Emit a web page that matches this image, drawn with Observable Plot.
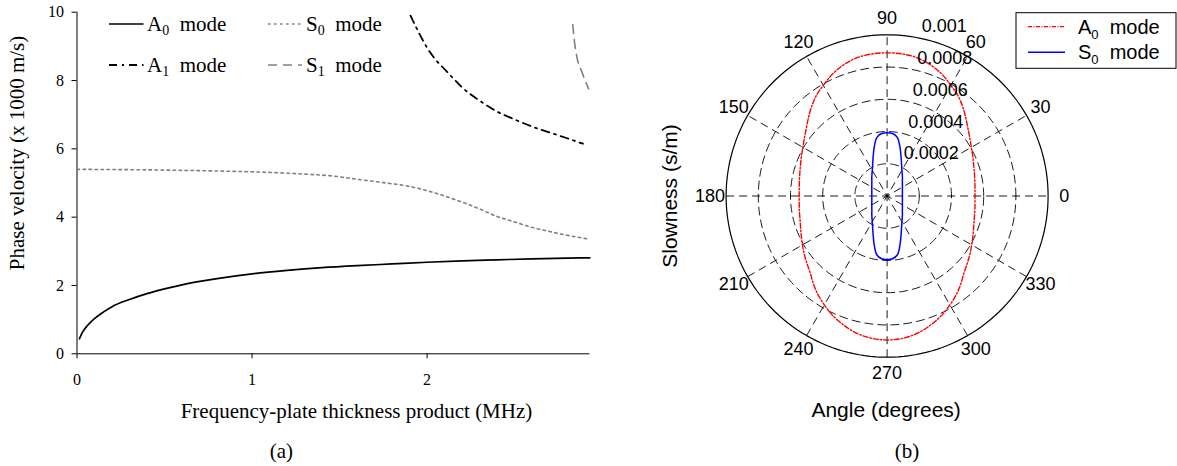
<!DOCTYPE html>
<html><head><meta charset="utf-8">
<script src="https://cdn.jsdelivr.net/npm/d3@7"></script>
<script src="https://cdn.jsdelivr.net/npm/@observablehq/plot@0.6"></script>
<style>
body{margin:0;background:#fff;}
#wrap{position:relative;width:1177px;height:466px;overflow:hidden;background:#fff;}
#left{position:absolute;left:0;top:0;}
#right{position:absolute;left:630px;top:0;}
svg{overflow:visible;}
</style></head><body>
<div id="wrap"><div id="left"></div><div id="right"></div></div>
<script>
// ---------- (a) dispersion curves ----------
const xTicks = [0, 1, 2];
const yTicks = [0, 2, 4, 6, 8, 10];
const a0F = [0.014,0.03,0.06,0.10,0.15,0.20,0.30,0.40,0.50,0.60,0.80,1.00,1.20,1.40,1.60,1.80,2.00,2.20,2.40,2.60,2.80,2.93];
const a0V = [0.44,0.62,0.83,1.03,1.22,1.38,1.59,1.76,1.90,2.02,2.20,2.34,2.44,2.52,2.58,2.63,2.68,2.72,2.75,2.78,2.80,2.81];
const s0F = [0.0,0.3,0.6,0.9,1.1,1.3,1.45,1.6,1.75,1.9,2.05,2.2,2.3,2.4,2.5,2.6,2.7,2.8,2.92];
const s0V = [5.40,5.39,5.37,5.34,5.31,5.26,5.21,5.11,5.01,4.90,4.70,4.44,4.24,4.02,3.86,3.70,3.58,3.47,3.36];
const a1F = [1.905,1.95,2.0,2.05,2.1,2.15,2.2,2.3,2.4,2.5,2.6,2.7,2.8,2.89];
const a1V = [9.90,9.43,8.96,8.60,8.33,8.06,7.80,7.41,7.09,6.86,6.65,6.48,6.31,6.15];
const s1F = [2.832,2.841,2.856,2.885,2.922];
const s1V = [9.64,9.17,8.68,8.24,7.76];

// ---------- (b) slowness curves (values in 1e-3 s/m) ----------
const angleDeg = [0,5,10,15,20,25,30,35,40,45,50,55,60,65,70,75,80,85,90,95,100,105,110,115,120,125,130,135,140,145,150,155,160,165,170,175,180,185,190,195,200,205,210,215,220,225,230,235,240,245,250,255,260,265,270,275,280,285,290,295,300,305,310,315,320,325,330,335,340,345,350,355];
const a0Slow = [.546,.548,.553,.561,.572,.587,.604,.627,.655,.690,.728,.764,.792,.824,.850,.870,.882,.887,.888,
  .887,.882,.870,.850,.824,.792,.764,.728,.690,.655,.627,.604,.587,.572,.561,.553,.548,
  .546,
  .548,.553,.560,.572,.588,.607,.628,.650,.675,.712,.748,.780,.812,.838,.862,.880,.890,
  .893,
  .890,.880,.862,.838,.812,.780,.748,.712,.675,.650,.628,.607,.588,.572,.560,.553,.548];
const s0Slow = [.095,.0954,.0965,.0985,.101,.105,.110,.116,.124,.134,.148,.164,.184,.213,.254,.311,.368,.389,.393,
  .389,.368,.311,.254,.213,.184,.164,.148,.134,.124,.116,.110,.105,.101,.0985,.0965,.0954,
  .095,
  .0954,.0965,.0985,.101,.105,.110,.116,.124,.134,.148,.164,.184,.213,.254,.311,.370,.391,
  .395,
  .391,.370,.311,.254,.213,.184,.164,.148,.134,.124,.116,.110,.105,.101,.0985,.0965,.0954];
const radialTicks = [0.0002, 0.0004, 0.0006, 0.0008];
const rMax = 0.001;
const spokeAngles = [0, 30, 60, 90, 120, 150];
const angleLabels = [0,30,60,90,120,150,180,210,240,270,300,330];

const serif = "'Liberation Serif','Times New Roman',serif";
const sans = "'Liberation Sans',Arial,Helvetica,sans-serif";
const zip = (F, V) => F.map((f, i) => ({f, v: V[i]}));

const left = Plot.plot({
  width: 630, height: 466,
  marginLeft: 76.5, marginRight: 40.6, marginTop: 11.7, marginBottom: 112.7,
  style: {fontFamily: serif, fontSize: "16px", color: "#000", background: "#fff", overflow: "visible"},
  x: {domain: [0, 2.93]},
  y: {domain: [0, 10]},
  marks: [
    Plot.axisY({ticks: yTicks, tickSize: 5, tickPadding: 8, label: null, fontSize: 16, tickFormat: d => String(d)}),
    Plot.axisX({ticks: xTicks, tickSize: 5, tickPadding: 15, label: null, fontSize: 16, tickFormat: d => String(d)}),
    Plot.ruleX([0], {stroke: "#000"}),
    Plot.ruleY([0], {stroke: "#000"}),
    Plot.line(zip(a0F, a0V), {x: "f", y: "v", stroke: "#000", strokeWidth: 1.7, curve: "monotone-x"}),
    Plot.line(zip(s0F, s0V), {x: "f", y: "v", stroke: "#808080", strokeWidth: 1.6, strokeDasharray: "2.5,3.5", curve: "monotone-x"}),
    Plot.line(zip(a1F, a1V), {x: "f", y: "v", stroke: "#000", strokeWidth: 1.8, strokeDasharray: "8,5,2,5", curve: "monotone-x"}),
    Plot.line(zip(s1F, s1V), {x: "f", y: "v", stroke: "#808080", strokeWidth: 1.6, strokeDasharray: "9,6", curve: "monotone-x"}),
    Plot.text(["Frequency-plate thickness product (MHz)"], {frameAnchor: "bottom", dx: 23, dy: 57, lineAnchor: "middle", textAnchor: "middle", fontSize: 21, text: d => d}),
    Plot.text(["Phase velocity (x 1000 m/s)"], {frameAnchor: "left", dx: -60, dy: -30, rotate: -90, textAnchor: "middle", lineAnchor: "middle", fontSize: 21, text: d => d}),
    Plot.text(["(a)"], {frameAnchor: "bottom", dx: -52, dy: 97, lineAnchor: "middle", textAnchor: "middle", fontSize: 21, text: d => d})
  ]
});
document.getElementById("left").appendChild(left);

const circlePts = (r) => d3.range(0, 361, 2).map(a => ({r, x: r * Math.cos(a * Math.PI / 180), y: r * Math.sin(a * Math.PI / 180)}));
const polar = (ang, vals) => ang.map((a, i) => ({x: vals[i] * 1e-3 * Math.cos(a * Math.PI / 180), y: vals[i] * 1e-3 * Math.sin(a * Math.PI / 180)}));
const rad = a => a * Math.PI / 180;
const lab = rMax * 1.1;
const rInc = radialTicks[0];

const right = Plot.plot({
  width: 547, height: 466,
  marginLeft: 95.6, marginRight: 129.4, marginTop: 34.3, marginBottom: 109.3,
  style: {fontFamily: sans, fontSize: "18px", color: "#000", background: "#fff", overflow: "visible"},
  x: {domain: [-rMax, rMax], axis: null},
  y: {domain: [-rMax, rMax], axis: null},
  marks: [
    Plot.line(radialTicks.flatMap(circlePts), {x: "x", y: "y", z: "r", stroke: "#000", strokeWidth: 0.9, strokeDasharray: "8,5"}),
    Plot.link(spokeAngles, {x1: a => -rMax * Math.cos(rad(a)), y1: a => -rMax * Math.sin(rad(a)), x2: a => rMax * Math.cos(rad(a)), y2: a => rMax * Math.sin(rad(a)), stroke: "#000", strokeWidth: 0.9, strokeDasharray: "8,5"}),
    Plot.line(circlePts(rMax), {x: "x", y: "y", stroke: "#000", strokeWidth: 1.2}),
    Plot.line(polar(angleDeg, a0Slow), {x: "x", y: "y", stroke: "#ff0000", strokeWidth: 1.4, strokeDasharray: "5,2,1.5,2", curve: "catmull-rom-closed"}),
    Plot.line(polar(angleDeg, s0Slow), {x: "x", y: "y", stroke: "#0000ff", strokeWidth: 1.5, curve: "catmull-rom-closed"}),
    Plot.text(angleLabels, {x: a => lab * Math.cos(rad(a)), y: a => lab * Math.sin(rad(a)), text: a => String(a), fontSize: 18, textAnchor: "middle", lineAnchor: "middle"}),
    Plot.text([...radialTicks, rMax], {x: r => (r + rInc / 20) * Math.cos(rad(82)), y: r => (r + rInc / 20) * Math.sin(rad(82)), text: r => String(+r.toPrecision(2)), fontSize: 18, textAnchor: "start", lineAnchor: "bottom", dx: 12, dy: -3}),
    Plot.text(["Slowness (s/m)"], {frameAnchor: "left", dx: -55.6, rotate: -90, textAnchor: "middle", lineAnchor: "middle", fontSize: 21, text: d => d}),
    Plot.text(["Angle (degrees)"], {frameAnchor: "bottom", dx: -1, dy: 53, textAnchor: "middle", lineAnchor: "middle", fontSize: 21, text: d => d}),
    Plot.text(["(b)"], {frameAnchor: "bottom", dx: 20, dy: 94, textAnchor: "middle", lineAnchor: "middle", fontSize: 21, fontFamily: serif, text: d => d})
  ]
});
document.getElementById("right").appendChild(right);

// ---------- legends ----------
function legendEntry(g, x1, x2, y, lineStyle, name, sub, tx, font, size, subSize, subShift) {
  g.append("line").attr("x1", x1).attr("x2", x2).attr("y1", y).attr("y2", y)
    .attr("stroke", lineStyle.stroke).attr("stroke-width", lineStyle.width)
    .attr("stroke-dasharray", lineStyle.dash || null);
  const t = g.append("text").attr("x", tx).attr("y", y + size * 0.34)
    .attr("text-anchor", "start")
    .attr("font-family", font).attr("font-size", size).attr("fill", "#000").style("white-space", "pre");
  t.append("tspan").text(name);
  t.append("tspan").attr("font-size", subSize).attr("dy", subShift).text(sub);
  t.append("tspan").attr("dy", -subShift).text("  mode");
}
const gl = d3.select(left).append("g");
legendEntry(gl, 109, 143.5, 24, {stroke: "#000", width: 1.7}, "A", "0", 147, serif, 21, 14, 4);
legendEntry(gl, 268, 302, 24, {stroke: "#808080", width: 1.6, dash: "2.5,3.5"}, "S", "0", 306, serif, 21, 14, 4);
legendEntry(gl, 109, 143.5, 65, {stroke: "#000", width: 1.8, dash: "8,5,2,5"}, "A", "1", 147, serif, 21, 14, 4);
legendEntry(gl, 268, 302, 65, {stroke: "#808080", width: 1.6, dash: "9,6"}, "S", "1", 306, serif, 21, 14, 4);

const gr = d3.select(right).append("g");
gr.append("rect").attr("x", 386).attr("y", 12.7).attr("width", 160).attr("height", 55.6)
  .attr("fill", "#fff").attr("stroke", "#000").attr("stroke-width", 1);
legendEntry(gr, 398, 435, 26.7, {stroke: "#ff0000", width: 1.2, dash: "4,1.5,1,1.5"}, "A", "0", 448, sans, 20, 13, 5);
legendEntry(gr, 398, 435, 52.3, {stroke: "#0000ff", width: 1.5}, "S", "0", 448, sans, 20, 13, 5);
</script>
</body></html>
